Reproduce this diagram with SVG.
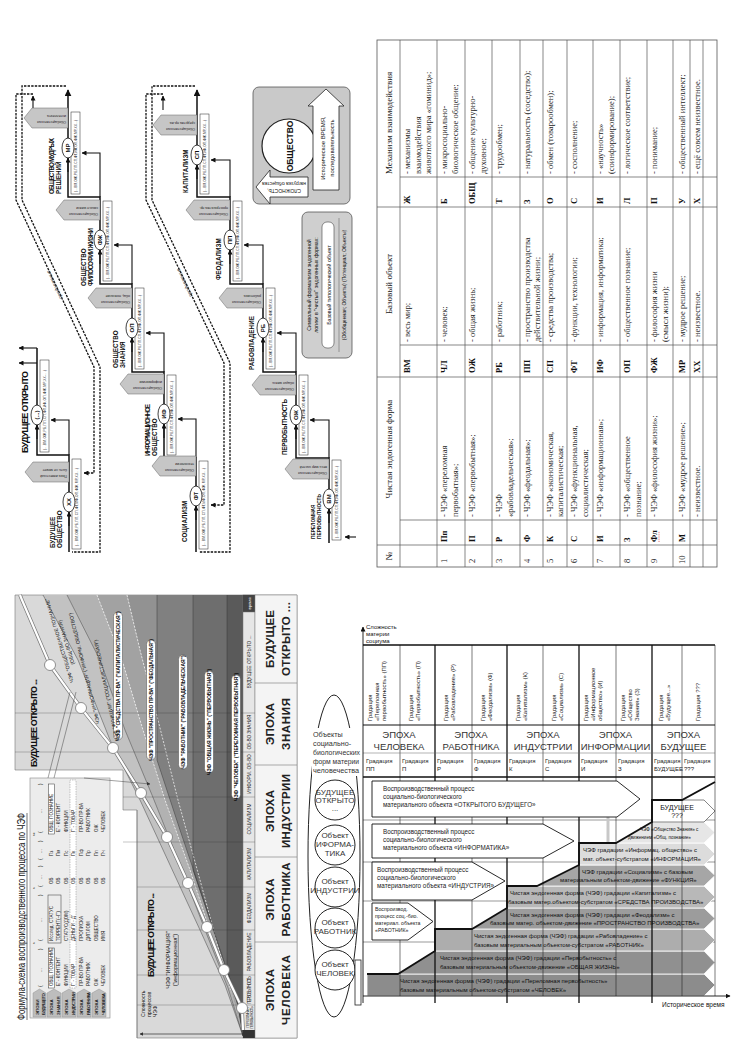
<svg xmlns="http://www.w3.org/2000/svg" width="739" height="1047" viewBox="0 0 739 1047">
<defs>
<marker id="ah" viewBox="0 0 10 10" refX="9" refY="5" markerWidth="5" markerHeight="5" markerUnits="userSpaceOnUse" orient="auto"><path d="M0,0L10,5L0,10z" fill="#111"/></marker>
<marker id="ahb" viewBox="0 0 10 10" refX="9" refY="5" markerWidth="7" markerHeight="7" markerUnits="userSpaceOnUse" orient="auto"><path d="M0,0L10,5L0,10z" fill="#111"/></marker>
<marker id="ahs" viewBox="0 0 10 10" refX="9" refY="5" markerWidth="3.5" markerHeight="3.5" markerUnits="userSpaceOnUse" orient="auto"><path d="M0,0L10,5L0,10z" fill="#333"/></marker>
</defs>
<style>
text{font-family:"Liberation Sans",Arial,sans-serif;fill:#111}
.thick{fill:none;stroke:#111;stroke-width:1.5}
.cont{fill:none;stroke:#111;stroke-width:1.1}
.dash{fill:none;stroke:#111;stroke-width:1.3;stroke-dasharray:2.4 1.2}
.ell{fill:#fff;stroke:#111;stroke-width:0.8}
.fbox{fill:#fff;stroke:#222;stroke-width:0.5}
.tag{fill:#c6c6c6;stroke:#666;stroke-width:0.5}
.code{font-size:6px;font-weight:bold;text-anchor:middle}
.lab{font-size:6.3px;font-weight:bold}
.ftx{font-size:3.3px;fill:#222}
.tgt{font-size:3.6px;fill:#222}
.ctx{font-size:5px;font-style:italic;fill:#333;text-anchor:middle}
.tl{fill:none;stroke:#555;stroke-width:0.7}
.tt{font-family:"Liberation Serif","Times New Roman",serif;font-size:8.5px;fill:#222}
.tc{font-family:"Liberation Serif","Times New Roman",serif;font-size:8.5px;font-weight:bold;fill:#111}
.th{font-family:"Liberation Serif","Times New Roman",serif;font-size:9px;fill:#222;text-anchor:middle}
.gl{fill:none;stroke:#333;stroke-width:0.45}
.st{font-size:4.8px;fill:#222;text-anchor:middle}
.epf{font-size:11.5px;font-weight:bold;fill:#222;text-anchor:middle}
.pill{fill:#fff;stroke:#444;stroke-width:0.5}
.pt{font-size:5px;font-weight:bold;text-anchor:middle}
.dg{font-size:5px;fill:#111;text-anchor:middle}
.sm{font-size:4.5px;fill:#222}
.smb{font-size:4.4px;font-weight:bold;fill:#222}
.gh{font-size:6px;fill:#222}
.ep{font-size:9.5px;fill:#333;text-anchor:middle}
.bt{font-size:6px;fill:#111}
.pa{fill:#fff;stroke:#111;stroke-width:0.9}
.pat{font-size:6.3px;fill:#222}
.cl{stroke:#222;stroke-width:0.6}
.cb{stroke:#111;stroke-width:1.3}
.ob{font-size:8px;fill:#333;text-anchor:middle}
.otx{font-size:7.2px;fill:#333}
</style>
<rect width="739" height="1047" fill="#fff"/>

<!-- ================= STEPPED SOCIETY DIAGRAM (rotated) ================= -->
<g id="stepped" transform="translate(0,580) rotate(-90)">
 <g id="step-connectors">
  <path class="thick" d="M37,329H122V296H208V263H296V230H383V197H490" marker-end="url(#ahb)"/>
  <path class="thick" d="M28,196H122V164H208V132H296V100H383V68H490" marker-end="url(#ahb)"/>
  <path class="thick" d="M28,69H125V37H232"/>
  <path class="cont" d="M232,37V19" marker-end="url(#ah)"/>
  <path class="cont" d="M217,37V19" marker-end="url(#ah)"/>
  <path class="cont" d="M122,329H160V310" marker-end="url(#ah)"/>
  <path class="cont" d="M208,296H247V277" marker-end="url(#ah)"/>
  <path class="cont" d="M296,263H335V244" marker-end="url(#ah)"/>
  <path class="cont" d="M383,230H420V211" marker-end="url(#ah)"/>
  <path class="cont" d="M122,196H161V178" marker-end="url(#ah)"/>
  <path class="cont" d="M208,164H247V146" marker-end="url(#ah)"/>
  <path class="cont" d="M296,132H335V114" marker-end="url(#ah)"/>
  <path class="cont" d="M383,100H427V82" marker-end="url(#ah)"/>
  <path class="cont" d="M125,69H160V51" marker-end="url(#ah)"/>
  <path class="cont" d="M43,356V345" marker-end="url(#ah)"/>
  <path class="cont" d="M470,163H484" marker-end="url(#ah)"/>
  <path class="cont" d="M470,33H484" marker-end="url(#ah)"/>
  <path class="dash" d="M494,66V22H380L213,100H28V72"/>
  <path class="dash" d="M486,33V16H380L213,94H107V84" marker-end="url(#ah)"/>
  <path class="dash" d="M494,195V152H380L217,230H28V199"/>
  <path class="dash" d="M486,163V146H380L217,224H75V211" marker-end="url(#ah)"/>
  <text class="ctx" transform="translate(296,56) rotate(-25)">продолжение</text>
  <text class="ctx" transform="translate(298,186) rotate(-25)">продолжение</text>
 </g>

 <g id="node-VM" transform="translate(81,329)">
  <path class="tag" d="M20,0V-36L30,-44L40,-36V0Z"/>
  <text class="tgt" transform="translate(27,-2) rotate(-90)">Обобщественная</text>
  <text class="tgt" transform="translate(33,-2) rotate(-90)">весь мир частей</text>
  <rect class="fbox" x="-41" y="3" width="80" height="9"/>
  <text class="ftx" x="-39" y="8.8" textLength="72">(...ВМ,ОЖ,РБ,ПП,СП,ФТ,ИФ,ОП,ФЖ,МР,ХХ...)</text>
  <text class="lab" x="-40" y="-14" style="font-size:4.8px">ПЕРЕЛОМНАЯ</text>
  <text class="lab" x="-40" y="-8" style="font-size:4.8px">ПЕРВОБЫТНОСТЬ</text>
  <path class="cont" d="M-24,0H-10" marker-end="url(#ah)"/>
  <ellipse class="ell" rx="10" ry="6"/><text class="code" y="2.2">ВМ</text>
 </g>
 <g id="node-OJ" transform="translate(165,296)">
  <path class="tag" d="M20,0V-36L30,-44L40,-36V0Z"/>
  <text class="tgt" transform="translate(27,-2) rotate(-90)">Обобщественная</text>
  <text class="tgt" transform="translate(33,-2) rotate(-90)">общая жизнь</text>
  <rect class="fbox" x="-40" y="3" width="80" height="9"/>
  <text class="ftx" x="-38" y="8.8" textLength="72">(...ВМ,ОЖ,РБ,ПП,СП,ФТ,ИФ,ОП,ФЖ,МР,ХХ...)</text>
  <text class="lab" x="-40" y="-9" textLength="56">ПЕРВОБЫТНОСТЬ</text>
  <path class="cont" d="M-24,0H-10" marker-end="url(#ah)"/>
  <ellipse class="ell" rx="10" ry="6"/><text class="code" y="2.2">ОЖ</text>
 </g>
 <g id="node-RB" transform="translate(252,263)">
  <path class="tag" d="M20,0V-36L30,-44L40,-36V0Z"/>
  <text class="tgt" transform="translate(27,-2) rotate(-90)">Обобщественная</text>
  <text class="tgt" transform="translate(33,-2) rotate(-90)">работника</text>
  <rect class="fbox" x="-41" y="3" width="81" height="9"/>
  <text class="ftx" x="-39" y="8.8" textLength="72">(...ВМ,ОЖ,РБ,ПП,СП,ФТ,ИФ,ОП,ФЖ,МР,ХХ...)</text>
  <text class="lab" x="-42" y="-9" textLength="54">РАБОВЛАДЕНИЕ</text>
  <path class="cont" d="M-24,0H-10" marker-end="url(#ah)"/>
  <ellipse class="ell" rx="10" ry="6"/><text class="code" y="2.2">РБ</text>
 </g>
 <g id="node-PP" transform="translate(340,230)">
  <path class="tag" d="M20,0V-36L30,-44L40,-36V0Z"/>
  <text class="tgt" transform="translate(27,-2) rotate(-90)">Обобщественная</text>
  <text class="tgt" transform="translate(33,-2) rotate(-90)">пространства пр.</text>
  <rect class="fbox" x="-41" y="3" width="80" height="9"/>
  <text class="ftx" x="-39" y="8.8" textLength="72">(...ВМ,ОЖ,РБ,ПП,СП,ФТ,ИФ,ОП,ФЖ,МР,ХХ...)</text>
  <text class="lab" x="-40" y="-9">ФЕОДАЛИЗМ</text>
  <path class="cont" d="M-24,0H-10" marker-end="url(#ah)"/>
  <ellipse class="ell" rx="10" ry="6"/><text class="code" y="2.2">ПП</text>
 </g>
 <g id="node-SP" transform="translate(425,197)">
  <path class="tag" d="M20,0V-36L30,-44L40,-36V0Z"/>
  <text class="tgt" transform="translate(27,-2) rotate(-90)">Обобщественная</text>
  <text class="tgt" transform="translate(33,-2) rotate(-90)">средства пр-ва</text>
  <rect class="fbox" x="-39" y="3" width="80" height="9"/>
  <text class="ftx" x="-37" y="8.8" textLength="72">(...ВМ,ОЖ,РБ,ПП,СП,ФТ,ИФ,ОП,ФЖ,МР,ХХ...)</text>
  <text class="lab" x="-38" y="-9">КАПИТАЛИЗМ</text>
  <path class="cont" d="M-24,0H-10" marker-end="url(#ah)"/>
  <ellipse class="ell" rx="10" ry="6"/><text class="code" y="2.2">СП</text>
 </g>
 <g id="node-FT" transform="translate(84,196)">
  <path class="tag" d="M20,0V-36L30,-44L40,-36V0Z"/>
  <text class="tgt" transform="translate(27,-2) rotate(-90)">Обобщественная</text>
  <text class="tgt" transform="translate(33,-2) rotate(-90)">технологии</text>
  <rect class="fbox" x="-53" y="3" width="88" height="9"/>
  <text class="ftx" x="-50" y="8.8" textLength="78">(...ВМ,ОЖ,РБ,ПП,СП,ФТ,ИФ,ОП,ФЖ,МР,ХХ...)</text>
  <text class="lab" x="-46" y="-9">СОЦИАЛИЗМ</text>
  <path class="cont" d="M-24,0H-10" marker-end="url(#ah)"/>
  <ellipse class="ell" rx="10" ry="6"/><text class="code" y="2.2">ФТ</text>
 </g>
 <g id="node-IF" transform="translate(166,164)">
  <path class="tag" d="M20,0V-36L30,-44L40,-36V0Z"/>
  <text class="tgt" transform="translate(27,-2) rotate(-90)">Обобщественная</text>
  <text class="tgt" transform="translate(33,-2) rotate(-90)">информатики</text>
  <rect class="fbox" x="-41" y="3" width="80" height="9"/>
  <text class="ftx" x="-39" y="8.8" textLength="72">(...ВМ,ОЖ,РБ,ПП,СП,ФТ,ИФ,ОП,ФЖ,МР,ХХ...)</text>
  <text class="lab" x="-42" y="-14.5" textLength="52">ИНФОРМАЦИОННОЕ</text>
  <text class="lab" x="-42" y="-7.5">ОБЩЕСТВО</text>
  <path class="cont" d="M-24,0H-10" marker-end="url(#ah)"/>
  <ellipse class="ell" rx="10" ry="6"/><text class="code" y="2.2">ИФ</text>
 </g>
 <g id="node-OP" transform="translate(252,132)">
  <path class="tag" d="M20,0V-36L30,-44L40,-36V0Z"/>
  <text class="tgt" transform="translate(27,-2) rotate(-90)">Обобщественная</text>
  <text class="tgt" transform="translate(33,-2) rotate(-90)">общ. познание</text>
  <rect class="fbox" x="-41" y="3" width="81" height="9"/>
  <text class="ftx" x="-39" y="8.8" textLength="72">(...ВМ,ОЖ,РБ,ПП,СП,ФТ,ИФ,ОП,ФЖ,МР,ХХ...)</text>
  <text class="lab" x="-40" y="-14.5">ОБЩЕСТВО</text>
  <text class="lab" x="-40" y="-7.5">ЗНАНИЯ</text>
  <path class="cont" d="M-24,0H-10" marker-end="url(#ah)"/>
  <ellipse class="ell" rx="10" ry="6"/><text class="code" y="2.2">ОП</text>
 </g>
 <g id="node-FJ" transform="translate(340,100)">
  <path class="tag" d="M20,0V-36L30,-44L40,-36V0Z"/>
  <text class="tgt" transform="translate(27,-2) rotate(-90)">Обобщественная</text>
  <text class="tgt" transform="translate(33,-2) rotate(-90)">смысл жизни</text>
  <rect class="fbox" x="-41" y="3" width="80" height="9"/>
  <text class="ftx" x="-39" y="8.8" textLength="72">(...ВМ,ОЖ,РБ,ПП,СП,ФТ,ИФ,ОП,ФЖ,МР,ХХ...)</text>
  <text class="lab" x="-46" y="-14.5">ОБЩЕСТВО</text>
  <text class="lab" x="-46" y="-7.5" textLength="58">ФИЛОСОФИИ ЖИЗНИ</text>
  <path class="cont" d="M-24,0H-10" marker-end="url(#ah)"/>
  <ellipse class="ell" rx="10" ry="6"/><text class="code" y="2.2">ФЖ</text>
 </g>
 <g id="node-MR" transform="translate(432,68)">
  <path class="tag" d="M20,0V-36L30,-44L40,-36V0Z"/>
  <text class="tgt" transform="translate(27,-2) rotate(-90)">Обобщественная</text>
  <text class="tgt" transform="translate(33,-2) rotate(-90)">интеллекта</text>
  <rect class="fbox" x="-46" y="3" width="82" height="9"/>
  <text class="ftx" x="-44" y="8.8" textLength="72">(...ВМ,ОЖ,РБ,ПП,СП,ФТ,ИФ,ОП,ФЖ,МР,ХХ...)</text>
  <text class="lab" x="-46" y="-14.5" textLength="56">ОБЩЕСТВО МУДРЫХ</text>
  <text class="lab" x="-46" y="-7.5">РЕШЕНИЙ</text>
  <path class="cont" d="M-24,0H-10" marker-end="url(#ah)"/>
  <ellipse class="ell" rx="10" ry="6"/><text class="code" y="2.2">МР</text>
 </g>
 <g id="node-XX" transform="translate(78,69)">
  <path class="tag" d="M20,0V-36L30,-44L40,-36V0Z"/>
  <text class="tgt" transform="translate(27,-2) rotate(-90)">Пока известный</text>
  <text class="tgt" transform="translate(33,-2) rotate(-90)">быть не может</text>
  <rect class="fbox" x="-47" y="3" width="90" height="9"/>
  <text class="ftx" x="-44" y="8.8" textLength="78">(...ВМ,ОЖ,РБ,ПП,СП,ФТ,ИФ,ОП,ФЖ,МР,ХХ...)</text>
  <text class="lab" x="-46" y="-14.5">БУДУЩЕЕ</text>
  <text class="lab" x="-46" y="-7.5">ОБЩЕСТВО</text>
  <path class="cont" d="M-24,0H-10" marker-end="url(#ah)"/>
  <ellipse class="ell" rx="10" ry="6"/><text class="code" y="2.2">ХХ</text>
 </g>
 <g id="node-OPEN" transform="translate(165,37)">
  <rect class="fbox" x="-37" y="3" width="92" height="9"/>
  <text class="ftx" x="-35" y="8.8" textLength="80">(...ВМ,ОЖ,РБ,ПП,СП,ФТ,ИФ,ОП,ФЖ,МР,ХХ-...)</text>
  <text class="lab" x="-38" y="-9" style="font-size:9px" textLength="82">БУДУЩЕЕ ОТКРЫТО</text>
  <path class="cont" d="M-24,0H-10" marker-end="url(#ah)"/>
  <ellipse class="ell" rx="10" ry="6"/><text class="code" y="2.2">(...)</text>
 </g>
</g>

<g id="legend-society">
 <rect x="253" y="87" width="97" height="117" rx="6" fill="#c9c9c9" stroke="#555" stroke-width="0.8"/>
 <circle cx="289" cy="146" r="27" fill="#fff" stroke="#222" stroke-width="1.2"/>
 <text transform="translate(293,146) rotate(-90)" font-size="8.5" font-weight="bold" text-anchor="middle">ОБЩЕСТВО</text>
 <path d="M313,190V106H308L326,89L344,106H339V190Z" fill="#fff" stroke="#222" stroke-width="0.8"/>
 <text transform="translate(325,148) rotate(-90)" font-size="6" text-anchor="middle">Историческое ВРЕМЯ,</text>
 <text transform="translate(334,148) rotate(-90)" font-size="6" text-anchor="middle">последовательность</text>
 <path d="M308,177H270V170L256,187L270,204V197H308Z" fill="#fff" stroke="#222" stroke-width="0.8"/>
 <text transform="translate(284,189) rotate(180)" font-size="5" text-anchor="middle">СЛОЖНОСТЬ,</text>
 <text transform="translate(284,182) rotate(180)" font-size="5" text-anchor="middle">нагрузка общества</text>
</g>
<g id="legend-formalism">
 <rect x="302" y="212" width="50" height="146" rx="6" fill="#cfcfcf" stroke="#555" stroke-width="0.8"/>
 <text transform="translate(311,285) rotate(-90)" font-size="5.3" text-anchor="middle">Символьный формализм эндогенной</text>
 <text transform="translate(318,285) rotate(-90)" font-size="5.3" text-anchor="middle">логики в "чистых" эндогенных формах:</text>
 <rect x="322" y="222" width="12" height="126" rx="5" fill="#fff" stroke="#444" stroke-width="0.6"/>
 <text transform="translate(330.5,285) rotate(-90)" font-size="5.3" text-anchor="middle">Базовый типологический объект</text>
 <line x1="339" y1="218" x2="339" y2="352" stroke="#555" stroke-width="0.5"/>
 <text transform="translate(346,285) rotate(-90)" font-size="5" text-anchor="middle">(Обобщенная; Объекты) (Потенциал; Объекты)</text>
</g>

<!-- ================= TABLE (rotated) ================= -->
<g id="table" transform="translate(377,567) rotate(-90)">
 <rect x="0" y="0" width="527" height="340" fill="#fff" stroke="#555" stroke-width="0.8"/>
 <path class="tl" d="M22,0V340M190,0V340M360,0V340M47,23V340M222,23V340M390,23V340"/>
 <path class="tl" d="M0,23H527M0,60H527M0,88H527M0,115H527M0,143H527M0,166H527M0,190H527M0,216H527M0,243H527M0,270H527M0,296H527M0,313H527M0,326H527"/>
 <text class="th" x="11" y="15">№</text>
 <text class="th" x="118" y="15">Чистая эндогенная форма</text>
 <text class="th" x="283" y="15">Базовый объект</text>
 <text class="th" x="444" y="15">Механизм взаимодействия</text>
 <text class="tc" x="194" y="33">ВМ</text><text class="tt" x="225" y="33">- весь мир;</text>
 <text class="tc" x="363" y="33">Ж</text><text class="tt" x="393" y="33">- механизмы</text><text class="tt" x="393" y="43.5">взаимодействия</text><text class="tt" x="393" y="54">животного мира «гоминид»;</text>
 <text class="tt" x="4" y="70">1</text><text class="tc" x="25" y="70">Пп</text>
 <text class="tt" x="50" y="70">- ЧЭФ «переломная</text><text class="tt" x="50" y="80.5">первобытная»;</text>
 <text class="tc" x="194" y="70">ЧЛ</text><text class="tt" x="225" y="70">- человек;</text>
 <text class="tc" x="363" y="70">Б</text><text class="tt" x="393" y="70">- микросоциально-</text><text class="tt" x="393" y="80.5">биологическое общение;</text>
 <text class="tt" x="4" y="98">2</text><text class="tc" x="25" y="98">П</text>
 <text class="tt" x="50" y="98">- ЧЭФ «первобытная»;</text>
 <text class="tc" x="194" y="98">ОЖ</text><text class="tt" x="225" y="98">- общая жизнь;</text>
 <text class="tc" x="363" y="98">ОБЩ</text><text class="tt" x="393" y="98">- общение культурно-</text><text class="tt" x="393" y="108.5">духовное;</text>
 <text class="tt" x="4" y="125">3</text><text class="tc" x="25" y="125">Р</text>
 <text class="tt" x="50" y="125">- ЧЭФ</text><text class="tt" x="50" y="135.5">«рабовладельческая»;</text>
 <text class="tc" x="194" y="125">РБ</text><text class="tt" x="225" y="125">- работник;</text>
 <text class="tc" x="363" y="125">Т</text><text class="tt" x="393" y="125">- трудообмен;</text>
 <text class="tt" x="4" y="152.5">4</text><text class="tc" x="25" y="152.5">Ф</text>
 <text class="tt" x="50" y="152.5">- ЧЭФ «феодальная»;</text>
 <text class="tc" x="194" y="152.5">ПП</text><text class="tt" x="225" y="152.5">- пространство производства</text><text class="tt" x="225" y="162.5">действительной жизни;</text>
 <text class="tc" x="363" y="152.5">З</text><text class="tt" x="393" y="152.5">- натуральность (соседство);</text>
 <text class="tt" x="4" y="175.5">5</text><text class="tc" x="25" y="175.5">К</text>
 <text class="tt" x="50" y="175.5">- ЧЭФ «экономическая,</text><text class="tt" x="50" y="185.5">капиталистическая;</text>
 <text class="tc" x="194" y="175.5">СП</text><text class="tt" x="225" y="175.5">- средства производства;</text>
 <text class="tc" x="363" y="175.5">О</text><text class="tt" x="393" y="175.5">- обмен (товарообмен);</text>
 <text class="tt" x="4" y="200">6</text><text class="tc" x="25" y="200">С</text>
 <text class="tt" x="50" y="200">- ЧЭФ «функциональная,</text><text class="tt" x="50" y="210.5">социалистическая;</text>
 <text class="tc" x="194" y="200">ФТ</text><text class="tt" x="225" y="200">- функции, технологии;</text>
 <text class="tc" x="363" y="200">С</text><text class="tt" x="393" y="200">- сосполнение;</text>
 <text class="tt" x="4" y="226">7</text><text class="tc" x="25" y="226">И</text>
 <text class="tt" x="50" y="226">- ЧЭФ «информационная»;</text>
 <text class="tc" x="194" y="226">ИФ</text><text class="tt" x="225" y="226">- информация, информатика;</text>
 <text class="tc" x="363" y="226">И</text><text class="tt" x="393" y="226">- «научность»</text><text class="tt" x="393" y="236.5">(соинформирование);</text>
 <text class="tt" x="4" y="253">8</text><text class="tc" x="25" y="253">З</text>
 <text class="tt" x="50" y="253">- ЧЭФ «общественное</text><text class="tt" x="50" y="263.5">познание;</text>
 <text class="tc" x="194" y="253">ОП</text><text class="tt" x="225" y="253">- общественное познание;</text>
 <text class="tc" x="363" y="253">Л</text><text class="tt" x="393" y="253">- логическое соответствие;</text>
 <text class="tt" x="4" y="280">9</text><text class="tc" x="25" y="280">Фл</text>
 <path d="M25,282H36" stroke="#d33" stroke-width="0.7" stroke-dasharray="1 0.8"/>
 <text class="tt" x="50" y="280">- ЧЭФ «философия жизни»;</text>
 <text class="tc" x="194" y="280">ФЖ</text><text class="tt" x="225" y="280">- философия жизни</text><text class="tt" x="225" y="290.5">(смысл жизни);</text>
 <text class="tc" x="363" y="280">П</text><text class="tt" x="393" y="280">- понимание;</text>
 <text class="tt" x="3" y="307.5">10</text><text class="tc" x="25" y="307.5">М</text>
 <text class="tt" x="50" y="307.5">- ЧЭФ «мудрое решение»;</text>
 <text class="tc" x="194" y="307.5">МР</text><text class="tt" x="225" y="307.5">- мудрое решение;</text>
 <text class="tc" x="363" y="307.5">У</text><text class="tt" x="393" y="307.5">- общественный интеллект;</text>
 <text class="tt" x="50" y="322.5">- неизвестное.</text>
 <text class="tc" x="194" y="322.5">ХХ</text><text class="tt" x="225" y="322.5">- неизвестное.</text>
 <text class="tc" x="363" y="322.5">Х</text><text class="tt" x="393" y="322.5">- ещё совсем неизвестное.</text>
</g>

<!-- ================= FORMULA CHART (rotated content) ================= -->
<g id="formula">
 <path d="M15,595H297V1038H137V810H123V770H15Z" fill="#d9d9d9" stroke="#777" stroke-width="0.6"/>
 <g id="fan">
  <polygon fill="#c2c2c2" points="43,595 78,660 110,740 140,800 170,865 200,930 225,985 243,1036 228,988 207,935 180,865 152,795 125,730 100,660 67,595"/>
  <polygon fill="#b2b2b2" points="67,595 100,660 125,730 152,795 180,865 207,935 228,988 243,1036 231,990 213,940 190,870 165,800 143,730 122,660 97,595"/>
  <polygon fill="#a2a2a2" points="97,595 122,660 143,730 165,800 190,870 213,940 231,990 243,1036 234,993 219,950 200,880 178,800 158,720 140,650 127,595"/>
  <polygon fill="#929292" points="127,595 140,650 158,720 178,800 200,880 219,950 234,993 243,1036 237,998 225,965 207,910 180,830 157,760 157,595"/>
  <polygon fill="#808080" points="157,595 157,760 180,830 207,910 225,965 237,998 243,1036 240,1010 232,985 215,935 193,870 193,595"/>
  <polygon fill="#6e6e6e" points="193,595 193,870 215,935 232,985 240,1010 243,1036 238,1005 227,975 227,595"/>
  <polygon fill="#5a5a5a" points="227,595 227,975 238,1005 243,1036 243,595"/>
  <polyline class="gl" points="43,595 78,660 110,740 140,800 170,865 200,930 225,985 243,1036"/>
  <polyline class="gl" points="67,595 100,660 125,730 152,795 180,865 207,935 228,988 243,1036"/>
  <polyline fill="none" stroke="#fff" stroke-width="0.7" stroke-dasharray="2 1.5" points="97,595 122,660 143,730 165,800 190,870 213,940 231,990"/>
  <polyline fill="none" stroke="#fff" stroke-width="0.7" stroke-dasharray="2 1.5" points="127,595 140,650 158,720 178,800 200,880 219,950 234,993"/>
  <polyline class="gl" points="157,595 157,760 180,830 207,910 225,965 237,998 243,1036"/>
  <polyline class="gl" points="193,595 193,870 215,935 232,985 240,1010 243,1036"/>
  <polyline class="gl" points="227,595 227,975 238,1005 243,1036"/>
 </g>
 <path d="M15,713H243M15,752H243M123,797H243M123,842H243M137,887H243M137,930H243M137,975H243M137,1005H243" stroke="#333" stroke-width="0.5" opacity="0.55"/>
 <path d="M137,810V1038" stroke="#777" stroke-width="0.6"/>
 <g id="strip">
  <rect x="243" y="595" width="12" height="443" fill="#e6e6e6" stroke="#777" stroke-width="0.5"/>
  <rect x="243" y="595" width="12" height="17" fill="#444"/>
  <rect x="243" y="1030" width="12" height="8" fill="#333"/>
  <path d="M243,612H255M243,713H255M243,752H255M243,797H255M243,842H255M243,887H255M243,930H255M243,975H255M243,1005H255" stroke="#777" stroke-width="0.5"/>
  <text class="st" transform="translate(251,603.5) rotate(-90)" style="fill:#fff;font-size:4.2px">время</text>
  <text class="st" transform="translate(251,662) rotate(-90)">БУДУЩЕЕ ОТКРЫТО ...</text>
  <text class="st" transform="translate(251,732) rotate(-90)" textLength="35">ОБ-ВО ЗНАНИЯ</text>
  <text class="st" transform="translate(251,774) rotate(-90)">ИНФОРМ. ОБ-ВО</text>
  <text class="st" transform="translate(251,819) rotate(-90)">СОЦИАЛИЗМ</text>
  <text class="st" transform="translate(251,864) rotate(-90)">КАПИТАЛИЗМ</text>
  <text class="st" transform="translate(251,908) rotate(-90)">ФЕОДАЛИЗМ</text>
  <text class="st" transform="translate(251,952) rotate(-90)">РАБОВЛАДЕНИЕ</text>
  <text class="st" transform="translate(251,990) rotate(-90)" textLength="28">ПЕРВОБЫТНОСТЬ</text>
  <text class="st" transform="translate(248.5,1017.5) rotate(-90)" style="font-size:3.2px" textLength="20">ПЕРЕЛОМНАЯ</text>
  <text class="st" transform="translate(252.5,1017.5) rotate(-90)" style="font-size:3.2px" textLength="22">ПЕРВОБЫТНОСТЬ</text>
 </g>
 <g id="epoch-labels">
  <rect x="255" y="595" width="42" height="443" fill="#f4f4f4" stroke="#777" stroke-width="0.5"/>
  <path d="M255,683H297M255,765H297M255,857H297M255,942H297" stroke="#777" stroke-width="0.6"/>
  <text class="epf" transform="translate(274,639) rotate(-90)" textLength="58">БУДУЩЕЕ</text>
  <text class="epf" transform="translate(290,639) rotate(-90)" textLength="74">ОТКРЫТО ...</text>
  <text class="epf" transform="translate(274,724) rotate(-90)" textLength="42">ЭПОХА</text>
  <text class="epf" transform="translate(290,724) rotate(-90)" textLength="52">ЗНАНИЯ</text>
  <text class="epf" transform="translate(274,811) rotate(-90)" textLength="42">ЭПОХА</text>
  <text class="epf" transform="translate(290,811) rotate(-90)" textLength="74">ИНДУСТРИИ</text>
  <text class="epf" transform="translate(274,899.5) rotate(-90)" textLength="42">ЭПОХА</text>
  <text class="epf" transform="translate(290,899.5) rotate(-90)" textLength="74">РАБОТНИКА</text>
  <text class="epf" transform="translate(274,990) rotate(-90)" textLength="42">ЭПОХА</text>
  <text class="epf" transform="translate(290,990) rotate(-90)" textLength="70">ЧЕЛОВЕКА</text>
 </g>
 <polyline fill="none" stroke="#777" stroke-width="3.6" points="243,1030 242,1008 224,970 207,927 188,883 167,837 141,793 113,748 81,708 50,665 22,600 20,595"/>
 <polyline fill="none" stroke="#fff" stroke-width="2.2" points="243,1030 242,1008 224,970 207,927 188,883 167,837 141,793 113,748 81,708 50,665 22,600 20,595"/>
 <g fill="#fff" stroke="#777" stroke-width="0.8">
  <circle cx="242" cy="1008" r="5.5"/><circle cx="224" cy="970" r="5.5"/><circle cx="207" cy="927" r="5.5"/>
  <circle cx="188" cy="883" r="5.5"/><circle cx="167" cy="837" r="5.5"/><circle cx="141" cy="793" r="5.5"/>
  <circle cx="113" cy="748" r="5.5"/><circle cx="81" cy="708" r="5.5"/><circle cx="50" cy="665" r="5.5"/>
 </g>
 <g transform="translate(118,676) rotate(-90)"><rect class="pill" x="-64" y="-4.5" width="128" height="9" rx="4.5"/><text class="pt" y="1.8">ЧЭФ "СРЕДСТВА ПР-ВА" ("КАПИТАЛИСТИЧЕСКАЯ")</text></g>
 <g transform="translate(151,700) rotate(-90)"><rect class="pill" x="-60" y="-4.5" width="120" height="9" rx="4.5"/><text class="pt" y="1.8">ЧЭФ "ПРОСТРАНСТВО ПР-ВА" ("ФЕОДАЛЬНАЯ")</text></g>
 <g transform="translate(183,712) rotate(-90)"><rect class="pill" x="-57" y="-4.5" width="114" height="9" rx="4.5"/><text class="pt" y="1.8">ЧЭФ "РАБОТНИК" ("РАБОВЛАДЕЛЬЧЕСКАЯ")</text></g>
 <g transform="translate(209,722) rotate(-90)"><rect class="pill" x="-51" y="-4.5" width="102" height="9" rx="4.5"/><text class="pt" y="1.8">ЧЭФ "ОБЩАЯ ЖИЗНЬ" ("ПЕРВОБЫТНАЯ")</text></g>
 <g transform="translate(236,737) rotate(-90)"><rect class="pill" x="-62" y="-4.5" width="124" height="9" rx="4.5"/><text class="pt" y="1.8">ЧЭФ "ЧЕЛОВЕК" ("ПЕРЕЛОМНАЯ ПЕРВОБЫТНАЯ")</text></g>
 <text class="dg" transform="translate(108,690) rotate(-102)">ЧЭФ "ФУНКЦИИ" ("СОЦИАЛИСТИЧЕСКАЯ")</text>
 <text class="dg" transform="translate(86,668) rotate(-104)">ЧЭФ "ИНФОРМАЦИЯ" ("ИНФОРМ. ОБЩЕСТВО")</text>
 <text class="dg" transform="translate(61,640) rotate(-107)">ЧЭФ "ОБЩЕСТВЕННОЕ ПОЗНАНИЕ"</text>
 <text class="dg" transform="translate(68,642) rotate(-107)">(ОБЩ-ВО ЗНАНИЯ)</text>
 <text transform="translate(37,767) rotate(-90)" font-size="9" font-weight="bold" textLength="88">БУДУЩЕЕ ОТКРЫТО ...</text>
 <text transform="translate(154,977) rotate(-90)" font-size="9" font-weight="bold" textLength="84">БУДУЩЕЕ ОТКРЫТО ...</text>
 <text transform="translate(170,960) rotate(-90)" font-size="5.5" text-anchor="middle">ЧЭФ "ИНФОРМАЦИЯ"</text>
 <text transform="translate(177,960) rotate(-90)" font-size="5.5" text-anchor="middle">("информационная")</text>
 <path d="M178.3,985V935" stroke="#111" stroke-width="0.4"/>
 <text transform="translate(145,1017) rotate(-90)" font-size="5.2">Сложность</text>
 <text transform="translate(151,1017) rotate(-90)" font-size="5.2">процессов</text>
 <text transform="translate(157,1017) rotate(-90)" font-size="5.2">ЧЭФ</text>
 <path d="M243,1034H140" stroke="#111" stroke-width="0.6" marker-end="url(#ahs)"/>
 <text transform="translate(25,1020) rotate(-90)" font-size="10" textLength="207" lengthAdjust="spacingAndGlyphs">Формула-схема воспроизводственного процесса по ЧЭФ</text>
 <path d="M27,1020V813" stroke="#111" stroke-width="0.6"/>
 <g id="formula-table" transform="translate(30,1018) rotate(-90)">
  <rect x="0" y="0" width="240" height="80" fill="#ececec" stroke="#888" stroke-width="0.6"/>
  <g fill="#bdbdbd" stroke="#888" stroke-width="0.4">
   <path d="M1,3H25L29,9.5L25,16H1Z"/><path d="M1,17H25L29,24L25,31H1Z"/><path d="M1,32H25L29,39L25,46H1Z"/><path d="M1,47H25L29,54L25,61H1Z"/><path d="M1,62H25L29,69L25,76H1Z"/>
  </g>
  <text class="smb" x="3" y="8.5">ЭПОХИ</text><text class="smb" x="3" y="14.5" textLength="22">БУДУЩЕГО</text>
  <text class="smb" x="3" y="23">ЭПОХА</text><text class="smb" x="3" y="29.5">ЗНАНИЯ</text>
  <text class="smb" x="3" y="38">ЭПОХА</text><text class="smb" x="3" y="44.5" textLength="23">ИНДУСТРИИ</text>
  <text class="smb" x="3" y="53">ЭПОХА</text><text class="smb" x="3" y="59.5" textLength="23">РАБОТНИКА</text>
  <text class="smb" x="3" y="68">ЭПОХА</text><text class="smb" x="3" y="74.5" textLength="22">ЧЕЛОВЕКА</text>
  <rect x="30" y="40" width="208" height="6" fill="#fff" stroke="#777" stroke-width="0.4" stroke-dasharray="1.5 1"/>
  <rect x="30" y="18.5" width="40" height="6" fill="#fff" stroke="#333" stroke-width="0.5"/>
  <rect x="75" y="18" width="48" height="13" fill="none" stroke="#333" stroke-width="0.5"/>
  <rect x="184" y="18.5" width="50" height="6" fill="#fff" stroke="#333" stroke-width="0.5"/>
  <text class="sm" x="31" y="12">(</text><text class="sm" x="46" y="12">...</text><text class="sm" x="68" y="12">)</text>
  <text class="sm" x="74" y="7">*</text><text class="sm" x="77" y="12">(</text><text class="sm" x="96" y="12">...</text><text class="sm" x="122" y="12">)</text>
  <text class="sm" x="129" y="7">*</text><text class="sm" x="131" y="12">(</text><text class="sm" x="139" y="12">...</text><text class="sm" x="151" y="12">)</text>
  <text class="sm" x="158" y="12">(</text><text class="sm" x="165" y="12">...</text><text class="sm" x="176" y="12">)</text>
  <text class="sm" x="182" y="7">**</text><text class="sm" x="185" y="12">(</text><text class="sm" x="205" y="12">...</text><text class="sm" x="233" y="12">)</text>
  <text class="sm" x="32" y="23">ОБЩ. ПОЗНАНИЕ</text><text class="sm" x="32" y="29.5">Е' - КОНТЕНТ</text>
  <text class="sm" x="32" y="38">ФУНКЦИИ</text><text class="sm" x="32" y="44.5">Г' - ТОВАР</text>
  <text class="sm" x="32" y="53">ПР-ВО ПР-ВА</text><text class="sm" x="32" y="59.5">РАБОТНИК</text>
  <text class="sm" x="32" y="68">ОЖ</text><text class="sm" x="32" y="74.5">ЧЕЛОВЕК</text>
  <text class="sm" x="77" y="23">Исслед. СТАТУС</text><text class="sm" x="77" y="29.5">ТОРРЕНТ(~Г')</text>
  <text class="sm" x="77" y="38">СТАТУС(ДОМ)</text><text class="sm" x="77" y="44.5">ДЕНЬГИ - Д'</text>
  <text class="sm" x="77" y="53">ПРОПИСКА</text><text class="sm" x="77" y="59.5">ДИПЛОМ</text>
  <text class="sm" x="77" y="68">ОБЩЕСТВО</text><text class="sm" x="77" y="74.5">ИМЯ</text>
  <text class="sm" x="134" y="23">ОБ</text><text class="sm" x="134" y="29.5">ОБ</text><text class="sm" x="134" y="38">ОБ</text><text class="sm" x="134" y="44.5">ОБ</text>
  <text class="sm" x="134" y="53">ОБ</text><text class="sm" x="134" y="59.5">ОБ</text><text class="sm" x="134" y="68">ОБ</text><text class="sm" x="134" y="74.5">ОБ</text>
  <text class="sm" x="162" y="23">Пз</text><text class="sm" x="162" y="29.5">Пм</text><text class="sm" x="162" y="38">Пс</text><text class="sm" x="162" y="44.5">Пк</text>
  <text class="sm" x="162" y="53">Пф</text><text class="sm" x="162" y="59.5">Пр</text><text class="sm" x="162" y="68">Пп</text><text class="sm" x="162" y="74.5">Пч</text>
  <text class="sm" x="186" y="23">ОБЩ. ПОЗНАНИЕ</text><text class="sm" x="186" y="29.5">Е' - КОНТЕНТ</text>
  <text class="sm" x="186" y="38">ФУНКЦИИ</text><text class="sm" x="186" y="44.5">Г' - ТОВАР</text>
  <text class="sm" x="186" y="53">ПР-ВО ПР-ВА</text><text class="sm" x="186" y="59.5">РАБОТНИК</text>
  <text class="sm" x="186" y="68">ОЖ</text><text class="sm" x="186" y="74.5">ЧЕЛОВЕК</text>
 </g>
 <path d="M48,778L70,692M54,778L76,692" stroke="#444" stroke-width="0.5"/>
 <path d="M84,778L150,784" stroke="#444" stroke-width="0.5" marker-end="url(#ahs)"/>
</g>

<!-- ================= OBJECTS ELLIPSE PANEL ================= -->
<g id="objects">
 <ellipse cx="334" cy="856" rx="26" ry="161" fill="none" stroke="#222" stroke-width="1"/>
 <rect x="312" y="728" width="50" height="48" fill="#fff"/>
 <text class="otx" x="313" y="737">Объекты</text>
 <text class="otx" x="313" y="746">социально-</text>
 <text class="otx" x="313" y="755" textLength="47" lengthAdjust="spacingAndGlyphs">биологических</text>
 <text class="otx" x="313" y="764" textLength="46" lengthAdjust="spacingAndGlyphs">форм материи</text>
 <text class="otx" x="313" y="773" textLength="46" lengthAdjust="spacingAndGlyphs">человечества</text>
 <g fill="#fff" stroke="#222" stroke-width="1">
  <circle cx="335" cy="800" r="20"/><circle cx="335" cy="845" r="20"/><circle cx="335" cy="887" r="20"/><circle cx="335" cy="928" r="20"/><circle cx="335" cy="970" r="20"/>
 </g>
 <text class="ob" x="335" y="795">БУДУЩЕЕ</text><text class="ob" x="335" y="803">ОТКРЫТО</text><text class="ob" x="335" y="811">...</text>
 <text class="ob" x="335" y="838">Объект</text><text class="ob" x="335" y="847">ИФОРМА-</text><text class="ob" x="335" y="856">ТИКА</text>
 <text class="ob" x="335" y="884">Объект</text><text class="ob" x="335" y="893">ИНДУСТРИИ</text>
 <text class="ob" x="335" y="925">Объект</text><text class="ob" x="335" y="934">РАБОТНИК</text>
 <text class="ob" x="335" y="967">Объект</text><text class="ob" x="335" y="976">ЧЕЛОВЕК</text>
 <rect x="355" y="960" width="6" height="45" fill="#fff" stroke="#222" stroke-width="0.8"/>
</g>

<!-- ================= EPOCHS CHART ================= -->
<g id="epochs">
 <rect x="363" y="645" width="352" height="351" fill="#fff"/>
 <path d="M363,820H715M363,862H715M363,901H715M363,942H715" stroke="#333" stroke-width="0.5"/>
 <path d="M608,817V865" stroke="#c8c8c8" stroke-width="3"/>
 <g id="bands" stroke="#fff" stroke-width="0.8">
  <polygon fill="#8c8c8c" points="367,974 704,974 715,985 704,996 367,996"/>
  <polygon fill="#909090" points="398,974 435,951 704,951 715,962.5 704,974"/>
  <polygon fill="#adadad" points="435,929 704,929 715,940 704,951 435,951"/>
  <polygon fill="#9c9c9c" points="472,929 507,908 704,908 715,918.5 704,929"/>
  <polygon fill="#b8b8b8" points="507,886 704,886 715,897 704,908 507,908"/>
  <polygon fill="#a6a6a6" points="537,886 579,865 704,865 715,875.5 704,886"/>
  <polygon fill="#dcdcdc" points="579,843 704,843 715,854 704,865 579,865"/>
  <polygon fill="#e6e6e6" points="616,843 652,822 704,822 715,832.5 704,843"/>
 </g>
 <polygon fill="#fff" stroke="#333" stroke-width="0.6" points="652,800 704,800 715,811 704,822 652,822"/>
 <path class="cl" d="M400,645V996M472,645V996M543,645V996M616,645V996M682,645V996M715,645V996"/>
 <path class="cb" d="M435,645V1003M507,645V1003M579,645V1003M652,645V1003"/>
 <path d="M363,645H715" stroke="#111" stroke-width="1.4"/>
 <path d="M363,725H715" stroke="#111" stroke-width="1"/>
 <path d="M363,753H715" stroke="#666" stroke-width="0.5"/>
 <path d="M363,777H715" stroke="#111" stroke-width="1.5"/>
 <path d="M363,1003V627" stroke="#111" stroke-width="0.9" marker-end="url(#ah)"/>
 <path d="M363,996H730" stroke="#111" stroke-width="0.9" marker-end="url(#ah)"/>
 <text x="366" y="629" font-size="6" fill="#222">Сложность</text>
 <text x="366" y="636" font-size="6" fill="#222">материи</text>
 <text x="366" y="643" font-size="6" fill="#222">социума</text>
 <text x="662" y="1007" font-size="6.5" fill="#333">Историческое время</text>
 <g id="gradation-headers">
  <text class="gh" transform="translate(372,721) rotate(-90)">Градация</text>
  <text class="gh" transform="translate(379,721) rotate(-90)">«Переломная</text>
  <text class="gh" transform="translate(386,721) rotate(-90)">первобытность» (ПП)</text>
  <text class="gh" transform="translate(413,721) rotate(-90)">Градация</text>
  <text class="gh" transform="translate(420,721) rotate(-90)">«Первобытность» (П)</text>
  <text class="gh" transform="translate(448,721) rotate(-90)">Градация</text>
  <text class="gh" transform="translate(455,721) rotate(-90)">«Рабовладение» (Р)</text>
  <text class="gh" transform="translate(485,721) rotate(-90)">Градация</text>
  <text class="gh" transform="translate(492,721) rotate(-90)">«Феодализм» (Ф)</text>
  <text class="gh" transform="translate(520,721) rotate(-90)">Градация</text>
  <text class="gh" transform="translate(527,721) rotate(-90)">«Капитализм» (К)</text>
  <text class="gh" transform="translate(556,721) rotate(-90)">Градация</text>
  <text class="gh" transform="translate(563,721) rotate(-90)">«Социализм» (С)</text>
  <text class="gh" transform="translate(588,721) rotate(-90)">Градация</text>
  <text class="gh" transform="translate(595,721) rotate(-90)">«Информационное</text>
  <text class="gh" transform="translate(602,721) rotate(-90)">общество» (И)</text>
  <text class="gh" transform="translate(625,721) rotate(-90)">Градация</text>
  <text class="gh" transform="translate(632,721) rotate(-90)">«Общество</text>
  <text class="gh" transform="translate(639,721) rotate(-90)">Знания» (З)</text>
  <text class="gh" transform="translate(663,721) rotate(-90)">Градация</text>
  <text class="gh" transform="translate(670,721) rotate(-90)">«Будущее...»</text>
  <text class="gh" transform="translate(700,721) rotate(-90)">Градация ???</text>
 </g>
 <text class="ep" x="399" y="738">ЭПОХА</text><text class="ep" x="399" y="749.5">ЧЕЛОВЕКА</text>
 <text class="ep" x="471" y="738">ЭПОХА</text><text class="ep" x="471" y="749.5">РАБОТНИКА</text>
 <text class="ep" x="543" y="738">ЭПОХА</text><text class="ep" x="543" y="749.5">ИНДУСТРИИ</text>
 <text class="ep" x="615.5" y="738">ЭПОХА</text><text class="ep" x="615.5" y="749.5">ИНФОРМАЦИИ</text>
 <text class="ep" x="683.5" y="738">ЭПОХА</text><text class="ep" x="683.5" y="749.5">БУДУЩЕЕ</text>
 <g id="gradation-row">
  <text class="gh" x="366" y="763">Градация</text><text class="gh" x="366" y="770.5">ПП</text>
  <text class="gh" x="402" y="763">Градация</text><text class="gh" x="402" y="770.5">П</text>
  <text class="gh" x="437" y="763">Градация</text><text class="gh" x="437" y="770.5">Р</text>
  <text class="gh" x="474" y="763">Градация</text><text class="gh" x="474" y="770.5">Ф</text>
  <text class="gh" x="509" y="763">Градация</text><text class="gh" x="509" y="770.5">К</text>
  <text class="gh" x="545" y="763">Градация</text><text class="gh" x="545" y="770.5">С</text>
  <text class="gh" x="581" y="763">Градация</text><text class="gh" x="581" y="770.5">И</text>
  <text class="gh" x="618" y="763">Градация</text><text class="gh" x="618" y="770.5">З</text>
  <text class="gh" x="654" y="763">Градация</text><text class="gh" x="654" y="770.5">БУДУЩЕЕ</text>
  <text class="gh" x="684" y="763">Градация</text><text class="gh" x="684" y="770.5">???</text>
 </g>
 <polygon class="pa" points="372,781 617,781 640,799 617,817 372,817"/>
 <text class="pat" x="383" y="791">Воспроизводственный процесс</text>
 <text class="pat" x="383" y="799">социально-биологического</text>
 <text class="pat" x="383" y="807">материального объекта «ОТКРЫТОГО БУДУЩЕГО»</text>
 <polygon class="pa" points="372,824 543,824 574,841 543,858 372,858"/>
 <text class="pat" x="383" y="834">Воспроизводственный процесс</text>
 <text class="pat" x="383" y="842">социально-биологического</text>
 <text class="pat" x="383" y="850">материального объекта «ИНФОРМАТИКА»</text>
 <polygon class="pa" points="372,862 472,862 505,881 472,900 372,900"/>
 <text class="pat" x="377" y="872">Воспроизводственный процесс</text>
 <text class="pat" x="377" y="880">социально-биологического</text>
 <text class="pat" x="377" y="888">материального объекта «ИНДУСТРИЯ»</text>
 <polygon class="pa" points="372,903 408,903 433,921.5 408,940 372,940"/>
 <text class="pat" x="375" y="911" style="font-size:5.2px">Воспроизвод.</text>
 <text class="pat" x="375" y="918" style="font-size:5.2px">процесс соц.-био.</text>
 <text class="pat" x="375" y="925" style="font-size:5.2px">материал. объекта</text>
 <text class="pat" x="375" y="932" style="font-size:5.2px">«РАБОТНИК»</text>
 <path d="M367,974H398L435,951V929H472L507,908V886H537L579,865V843H616L652,822V800H682L715,782" fill="none" stroke="#111" stroke-width="1.8"/>
 <text class="bt" x="400" y="983">Чистая эндогенная форма (ЧЭФ) градации «Переломная первобытность»</text>
 <text class="bt" x="400" y="991.5">базовым материальным объектом-субстратом «ЧЕЛОВЕК»</text>
 <text class="bt" x="440" y="960">Чистая эндогенная форма (ЧЭФ) градации «Первобытность» с</text>
 <text class="bt" x="440" y="968.5">базовым материальным объектом-движение «ОБЩАЯ ЖИЗНЬ»</text>
 <text class="bt" x="474" y="938">Чистая эндогенная форма (ЧЭФ) градации «Рабовладение» с</text>
 <text class="bt" x="474" y="946.5">базовым материальным объектом-субстратом «РАБОТНИК»</text>
 <text class="bt" x="510" y="916.5">Чистая эндогенная форма (ЧЭФ) градации «Феодализм» с</text>
 <text class="bt" x="490" y="925">базовым матер. объектом-движение «ПРОСТРАНСТВО ПРОИЗВОДСТВА»</text>
 <text class="bt" x="510" y="895">Чистая эндогенная форма (ЧЭФ) градации «Капитализм» с</text>
 <text class="bt" x="508" y="903.5">базовым матер.объектом-субстратом «СРЕДСТВА ПРОИЗВОДСТВА»</text>
 <text class="bt" x="582" y="873.5">ЧЭФ градации «Социализм» с базовым</text>
 <text class="bt" x="560" y="882">материальным объектом-движение «ФУНКЦИЯ»</text>
 <text class="bt" x="583" y="852">ЧЭФ градации «Информац. общество» с</text>
 <text class="bt" x="583" y="860.5">мат. объект-субстратом «ИНФОРМАЦИЯ»</text>
 <text class="bt" x="640" y="831" style="font-size:4.6px">ЧЭФ «Общество Знания» с</text>
 <text class="bt" x="628" y="838.5" style="font-size:4.6px">движением «Общ. познание»</text>
 <text class="bt" x="677" y="810" text-anchor="middle" style="font-size:7px">БУДУЩЕЕ</text>
 <text class="bt" x="677" y="818" text-anchor="middle" style="font-size:7px">???</text>
</g>
</svg>
